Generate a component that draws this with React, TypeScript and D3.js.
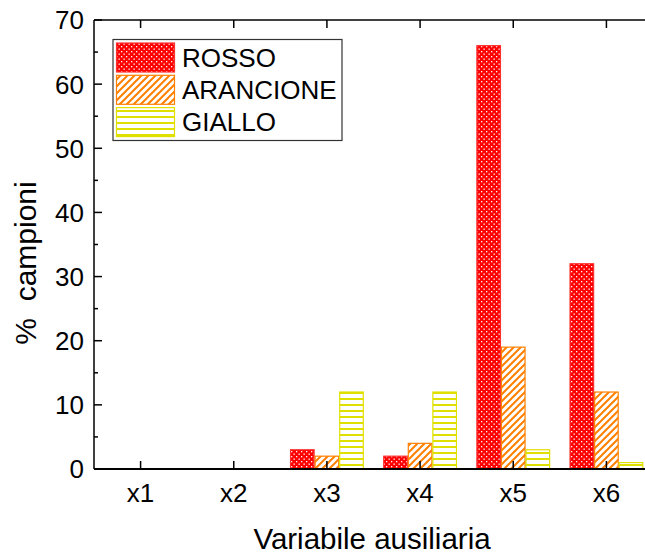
import React from "react";
import * as d3 from "d3";

const categories = ["x1", "x2", "x3", "x4", "x5", "x6"];
const seriesNames = ["ROSSO", "ARANCIONE", "GIALLO"];
const rosso = [0, 0, 3, 2, 66, 32];
const arancione = [0, 0, 2, 4, 19, 12];
const giallo = [0, 0, 12, 12, 3, 1];
const yTicks = [0, 10, 20, 30, 40, 50, 60, 70];
const yMinorTicks = [5, 15, 25, 35, 45, 55, 65];

const W = 645;
const H = 554;
const left = 94;
const right = 653;
const top = 20;
const bottom = 469;
const FONT = "'Liberation Sans', Arial, Helvetica, sans-serif";

const RED = "#ff0000";
const ORANGE = "#ff8000";
const YELLOW = "#e0e000";

export default function App() {
  const x = d3.scaleBand<string>().domain(categories).range([left, right]).paddingInner(0).paddingOuter(0);
  const xs = d3.scaleBand<string>().domain(seriesNames).range([0, x.bandwidth()]).paddingInner(0).paddingOuter(0.395);
  const y = d3.scaleLinear().domain([0, 70]).range([bottom, top]);

  const data = [rosso, arancione, giallo];
  const fills = ["url(#pRed)", "url(#pOrange)", "url(#pYellow)"];
  const strokes = ["#ff3030", ORANGE, YELLOW];

  const axisColor = "#000";

  return (
    <svg width={W} height={H} style={{ position: "absolute", left: 0, top: 0, background: "#fff" }}>
      <defs>
        <pattern id="pRed" patternUnits="userSpaceOnUse" width={5} height={5}>
          <rect width={5} height={5} fill={RED} />
          <rect x={1} y={1} width={1.3} height={1.3} fill="#fff" />
          <rect x={3.5} y={3.5} width={1.3} height={1.3} fill="#fff" />
        </pattern>
        <pattern id="pOrange" patternUnits="userSpaceOnUse" width={7} height={7}>
          <rect width={7} height={7} fill="#fff" />
          <path d="M-1,1 l2,-2 M0,7 l7,-7 M6,8 l2,-2" stroke={ORANGE} strokeWidth={2} />
        </pattern>
        <pattern id="pYellow" patternUnits="userSpaceOnUse" width={6} height={6}>
          <rect width={6} height={6} fill="#fff" />
          <rect x={0} y={2} width={6} height={2} fill={YELLOW} />
        </pattern>
      </defs>

      {/* bars */}
      {categories.map((c, i) => (
        <g key={c}>
          {seriesNames.map((s, k) => {
            const v = data[k][i];
            if (v <= 0) return null;
            const bx = (x(c) as number) + (xs(s) as number);
            return (
              <rect
                key={s}
                x={bx + 0.5}
                y={y(v)}
                width={xs.bandwidth() - 1}
                height={bottom - y(v)}
                fill={fills[k]}
                stroke={strokes[k]}
                strokeWidth={1.2}
              />
            );
          })}
        </g>
      ))}

      {/* frame */}
      <line x1={left} x2={right} y1={bottom} y2={bottom} stroke={axisColor} strokeWidth={2} />
      <line x1={left} x2={right} y1={top} y2={top} stroke={axisColor} strokeWidth={1.5} />
      <line x1={left} x2={left} y1={top} y2={bottom} stroke={axisColor} strokeWidth={1.5} />
      <line x1={right} x2={right} y1={top} y2={bottom} stroke={axisColor} strokeWidth={1.5} />

      {/* y ticks */}
      {yTicks.map((t) => (
        <g key={"y" + t}>
          <line x1={left} x2={left + 8} y1={y(t)} y2={y(t)} stroke={axisColor} strokeWidth={1.5} />
          <line x1={right} x2={right - 8} y1={y(t)} y2={y(t)} stroke={axisColor} strokeWidth={1.5} />
          <text x={left - 10} y={y(t)} dy="0.36em" textAnchor="end" fontFamily={FONT} fontSize={26} fill="#000">
            {t}
          </text>
        </g>
      ))}
      {yMinorTicks.map((t) => (
        <g key={"ym" + t}>
          <line x1={left} x2={left + 4} y1={y(t)} y2={y(t)} stroke={axisColor} strokeWidth={1.5} />
          <line x1={right} x2={right - 4} y1={y(t)} y2={y(t)} stroke={axisColor} strokeWidth={1.5} />
        </g>
      ))}

      {/* x ticks */}
      {categories.map((c) => {
        const cx = (x(c) as number) + x.bandwidth() / 2;
        return (
          <g key={"x" + c}>
            <line x1={cx} x2={cx} y1={bottom} y2={bottom - 8} stroke={axisColor} strokeWidth={1.5} />
            <line x1={cx} x2={cx} y1={top} y2={top + 8} stroke={axisColor} strokeWidth={1.5} />
            <text x={cx} y={502} textAnchor="middle" fontFamily={FONT} fontSize={26} fill="#000">
              {c}
            </text>
          </g>
        );
      })}

      {/* axis titles */}
      <text x={372} y={549} textAnchor="middle" fontFamily={FONT} fontSize={29.5} fill="#000">
        Variabile ausiliaria
      </text>
      <text
        transform={`translate(36,263) rotate(-90)`}
        textAnchor="middle"
        fontFamily={FONT}
        fontSize={30}
        fill="#000"
        style={{ whiteSpace: "pre" }}
      >
        {"%  campioni"}
      </text>

      {/* legend */}
      <rect x={113} y={39.5} width={229} height={101} fill="#fff" stroke="#333" strokeWidth={1.2} />
      {seriesNames.map((s, k) => {
        const ry = 43 + k * 32.3;
        return (
          <g key={"lg" + s}>
            <rect x={116.5} y={ry} width={58} height={29} fill={fills[k]} stroke={strokes[k]} strokeWidth={1.2} />
            <text x={182} y={ry + 14.5} dy="0.36em" fontFamily={FONT} fontSize={26} fill="#000">
              {s}
            </text>
          </g>
        );
      })}
    </svg>
  );
}
